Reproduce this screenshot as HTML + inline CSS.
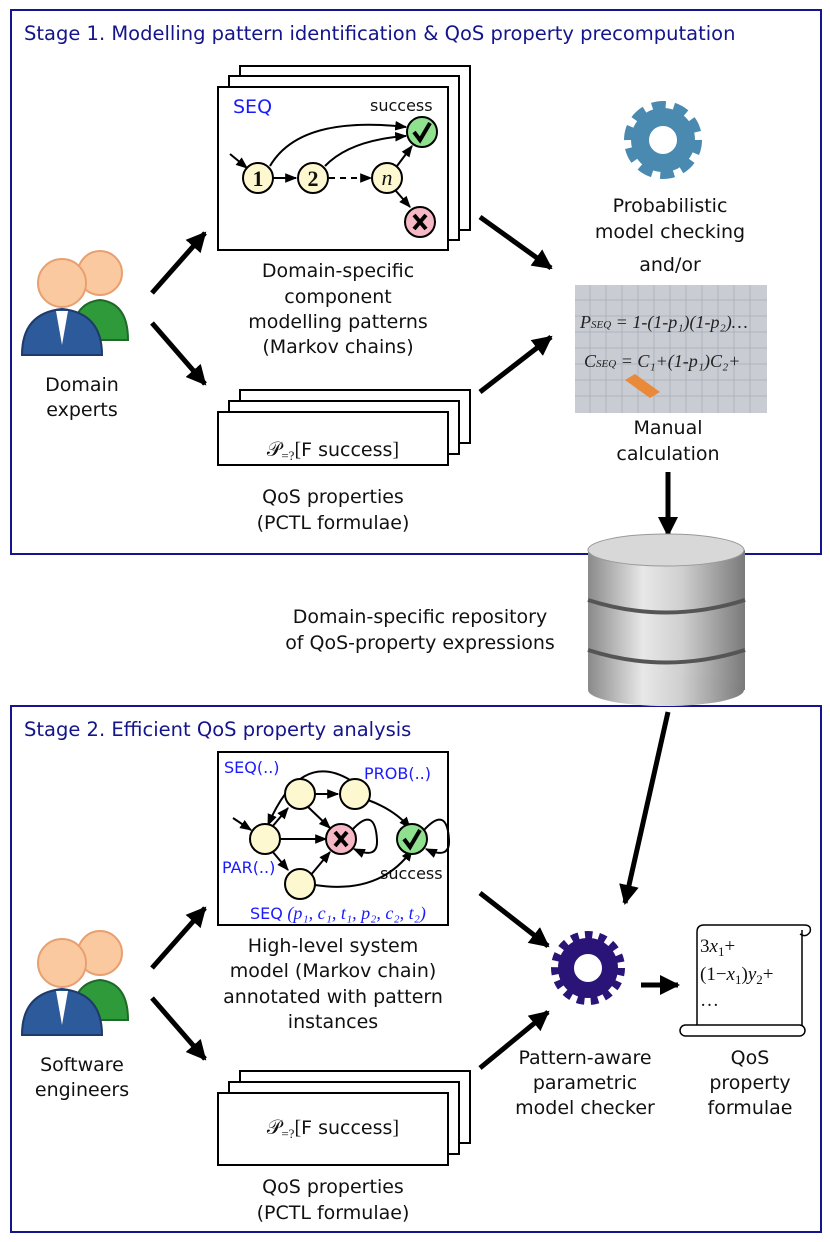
<!DOCTYPE html>
<html><head><meta charset="utf-8"><style>
body{margin:0;background:#fff}
svg{display:block}
text{font-family:"DejaVu Sans","Liberation Sans",sans-serif;font-size:19px;fill:#111}
.c{text-anchor:middle}
.t{fill:#14148c;font-size:19.5px}
.b{fill:#1a1aff}
.m{font-family:"Liberation Serif",serif}
</style></head><body>
<svg width="830" height="1242" viewBox="0 0 830 1242" xmlns="http://www.w3.org/2000/svg">
<defs>
<marker id="a" viewBox="0 0 10 10" refX="9" refY="5" markerWidth="4" markerHeight="4" orient="auto"><path d="M0,0L10,5L0,10z" fill="#000"/></marker>
<marker id="s" viewBox="0 0 10 10" refX="9" refY="5" markerWidth="6" markerHeight="6" orient="auto"><path d="M0,1L10,5L0,9z" fill="#000"/></marker>
<linearGradient id="db" x1="0" x2="1"><stop offset="0" stop-color="#8a8a8a"/><stop offset=".35" stop-color="#e8e8e8"/><stop offset=".6" stop-color="#cfcfcf"/><stop offset="1" stop-color="#7a7a7a"/></linearGradient>
<g id="person">
<circle cx="100" cy="28" r="22" fill="#fbc9a0" stroke="#e8a070" stroke-width="2"/>
<path d="M72,95 Q72,58 100,55 Q128,58 128,95z" fill="#2e9a3a" stroke="#1f6a28" stroke-width="2"/>
<circle cx="62" cy="38" r="24" fill="#fbc9a0" stroke="#e8a070" stroke-width="2"/>
<path d="M22,110 Q22,68 62,64 Q102,68 102,110z" fill="#2d5a9a" stroke="#1d3a6a" stroke-width="2"/>
<path d="M56,66 L62,100 L68,66z" fill="#fff"/>
</g>
</defs>

<rect x="11" y="10" width="810" height="544" fill="none" stroke="#14148c" stroke-width="2"/>
<rect x="11" y="706" width="810" height="526" fill="none" stroke="#14148c" stroke-width="2"/>
<text x="24" y="40" class="t">Stage 1. Modelling pattern identification &amp; QoS property precomputation</text>
<text x="24" y="736" class="t">Stage 2. Efficient QoS property analysis</text>

<!-- SEQ stack -->
<rect x="240" y="66" width="230" height="164" fill="#fff" stroke="#000" stroke-width="2"/>
<rect x="229" y="76" width="230" height="164" fill="#fff" stroke="#000" stroke-width="2"/>
<rect x="218" y="87" width="230" height="163" fill="#fff" stroke="#000" stroke-width="2"/>
<text x="233" y="113" class="b">SEQ</text>
<text x="370" y="111" style="font-size:16px">success</text>
<g stroke="#000" stroke-width="2" fill="none" marker-end="url(#s)">
<line x1="230" y1="154" x2="247" y2="168"/>
<line x1="273" y1="178" x2="296" y2="178"/>
<line x1="329" y1="178" x2="371" y2="178" stroke-dasharray="6,5"/>
<path d="M270,166 Q300,115 406,127"/>
<path d="M325,166 Q350,140 406,136"/>
<line x1="397" y1="166" x2="412" y2="146"/>
<line x1="396" y1="191" x2="410" y2="207"/>
</g>
<g stroke="#000" stroke-width="2">
<circle cx="258" cy="178" r="15" fill="#fdf8d0"/>
<circle cx="313" cy="178" r="15" fill="#fdf8d0"/>
<circle cx="387" cy="178" r="15" fill="#fdf8d0"/>
<circle cx="422" cy="132" r="15" fill="#8fe08f"/>
<circle cx="420" cy="222" r="15" fill="#f5b8c4"/>
</g>
<text x="258" y="186" class="c m" style="font-size:22px;font-weight:bold">1</text>
<text x="313" y="186" class="c m" style="font-size:22px;font-weight:bold">2</text>
<text x="387" y="185" class="c m" style="font-size:22px;font-style:italic">n</text>
<path d="M414,132 L420,140 L430,123" stroke="#000" stroke-width="4" fill="none"/>
<path d="M414,215 L426,229 M426,215 L414,229" stroke="#000" stroke-width="4"/>

<text class="c" x="338" y="277">Domain-specific</text>
<text class="c" x="338" y="303">component</text>
<text class="c" x="338" y="328">modelling patterns</text>
<text class="c" x="338" y="353">(Markov chains)</text>

<rect x="240" y="390" width="230" height="53" fill="#fff" stroke="#000" stroke-width="2"/>
<rect x="229" y="401" width="230" height="53" fill="#fff" stroke="#000" stroke-width="2"/>
<rect x="218" y="412" width="230" height="53" fill="#fff" stroke="#000" stroke-width="2"/>
<text class="c m" x="333" y="456" style="font-size:20px">𝒫<tspan style="font-size:13px" dy="4">=?</tspan><tspan dy="-4">[</tspan><tspan style="font-family:'DejaVu Sans',sans-serif;font-size:19px">F success</tspan>]</text>
<text class="c" x="333" y="503">QoS properties</text>
<text class="c" x="333" y="529">(PCTL formulae)</text>

<use href="#person" x="0" y="245"/>
<text class="c" x="82" y="391">Domain</text>
<text class="c" x="82" y="416">experts</text>

<g stroke="#000" stroke-width="5" marker-end="url(#a)">
<line x1="152" y1="293" x2="205" y2="233"/>
<line x1="152" y1="323" x2="205" y2="384"/>
<line x1="480" y1="217" x2="551" y2="268"/>
<line x1="480" y1="392" x2="551" y2="337"/>
<line x1="668" y1="472" x2="668" y2="535"/>
<line x1="152" y1="968" x2="205" y2="908"/>
<line x1="152" y1="998" x2="205" y2="1059"/>
<line x1="480" y1="893" x2="548" y2="946"/>
<line x1="480" y1="1068" x2="548" y2="1012"/>
<line x1="668" y1="712" x2="625" y2="903"/>
<line x1="641" y1="985" x2="678" y2="985"/>
</g>

<!-- blue gear -->
<circle cx="663" cy="140" r="33" fill="none" stroke="#4a8ab0" stroke-width="12" stroke-dasharray="13,7.7"/>
<circle cx="663" cy="140" r="23" fill="none" stroke="#4a8ab0" stroke-width="18"/>
<text class="c" x="670" y="212">Probabilistic</text>
<text class="c" x="670" y="238">model checking</text>
<text class="c" x="670" y="271">and/or</text>
<!-- photo -->
<rect x="575" y="285" width="192" height="128" fill="#c9ccd3"/>
<g stroke="#aeb3bd" stroke-width="1">
<path d="M575,300H767M575,316H767M575,332H767M575,348H767M575,364H767M575,380H767M575,396H767M590,285V413M606,285V413M622,285V413M638,285V413M654,285V413M670,285V413M686,285V413M702,285V413M718,285V413M734,285V413M750,285V413"/>
</g>
<text x="580" y="328" style="font-size:18px;fill:#222;font-family:'Liberation Serif',serif;font-style:italic">P<tspan font-size="11">SEQ</tspan> = 1-(1-p₁)(1-p₂)…</text>
<text x="584" y="367" style="font-size:18px;fill:#222;font-family:'Liberation Serif',serif;font-style:italic">C<tspan font-size="11">SEQ</tspan> = C₁+(1-p₁)C₂+</text>
<path d="M625,380 L650,398 L660,392 L635,374z" fill="#e88a3a"/>
<text class="c" x="668" y="434">Manual</text>
<text class="c" x="668" y="460">calculation</text>

<!-- database -->
<rect x="588" y="550" width="157" height="140" fill="url(#db)"/>
<ellipse cx="666" cy="690" rx="78" ry="16" fill="url(#db)"/>
<ellipse cx="666" cy="550" rx="78" ry="16" fill="#d8d8d8" stroke="#999"/>
<path d="M588,600 Q666,625 745,600" stroke="#555" stroke-width="4" fill="none"/>
<path d="M588,650 Q666,675 745,650" stroke="#555" stroke-width="4" fill="none"/>

<text class="c" x="420" y="623">Domain-specific repository</text>
<text class="c" x="420" y="649">of QoS-property expressions</text>

<!-- stage 2 diagram -->
<rect x="218" y="752" width="230" height="173" fill="#fff" stroke="#000" stroke-width="2"/>
<text x="224" y="773" class="b" style="font-size:16px">SEQ(..)</text>
<text x="364" y="779" class="b" style="font-size:16px">PROB(..)</text>
<text x="222" y="873" class="b" style="font-size:16px">PAR(..)</text>
<text x="380" y="879" style="font-size:16px">success</text>
<text x="250" y="919" class="b" style="font-size:16px">SEQ<tspan class="m" font-style="italic" font-size="18"> (p₁, c₁, t₁, p₂, c₂, t₂)</tspan></text>
<g stroke="#000" stroke-width="2" fill="none" marker-end="url(#s)">
<line x1="233" y1="818" x2="251" y2="830"/>
<line x1="272" y1="827" x2="288" y2="808"/>
<line x1="272" y1="851" x2="288" y2="870"/>
<line x1="280" y1="839" x2="326" y2="839"/>
<line x1="314" y1="794" x2="338" y2="794"/>
<line x1="307" y1="806" x2="330" y2="828"/>
<line x1="310" y1="876" x2="330" y2="852"/>
<path d="M368,800 Q395,810 410,828"/>
<path d="M315,885 Q380,895 412,850"/>
<path d="M350,780 Q300,750 268,825"/>
<path d="M352,830 Q375,805 377,840 Q378,860 354,849"/>
<path d="M424,830 Q447,805 449,840 Q450,860 426,849"/>
</g>
<g stroke="#000" stroke-width="2">
<circle cx="300" cy="794" r="15" fill="#fdf8d0"/>
<circle cx="355" cy="794" r="15" fill="#fdf8d0"/>
<circle cx="265" cy="839" r="15" fill="#fdf8d0"/>
<circle cx="300" cy="884" r="15" fill="#fdf8d0"/>
<circle cx="341" cy="839" r="15" fill="#f5b8c4"/>
<circle cx="412" cy="839" r="15" fill="#8fe08f"/>
</g>
<path d="M335,832 L347,846 M347,832 L335,846" stroke="#000" stroke-width="4"/>
<path d="M404,839 L410,847 L420,830" stroke="#000" stroke-width="4" fill="none"/>

<text class="c" x="333" y="952">High-level system</text>
<text class="c" x="333" y="977">model (Markov chain)</text>
<text class="c" x="333" y="1003">annotated with pattern</text>
<text class="c" x="333" y="1028">instances</text>

<use href="#person" x="0" y="925"/>
<text class="c" x="82" y="1071">Software</text>
<text class="c" x="82" y="1096">engineers</text>

<rect x="240" y="1071" width="230" height="72" fill="#fff" stroke="#000" stroke-width="2"/>
<rect x="229" y="1082" width="230" height="72" fill="#fff" stroke="#000" stroke-width="2"/>
<rect x="218" y="1093" width="230" height="72" fill="#fff" stroke="#000" stroke-width="2"/>
<text class="c m" x="333" y="1134" style="font-size:20px">𝒫<tspan style="font-size:13px" dy="4">=?</tspan><tspan dy="-4">[</tspan><tspan style="font-family:'DejaVu Sans',sans-serif;font-size:19px">F success</tspan>]</text>
<text class="c" x="333" y="1193">QoS properties</text>
<text class="c" x="333" y="1219">(PCTL formulae)</text>

<!-- purple gear -->
<circle cx="588" cy="968" r="31" fill="none" stroke="#2a1478" stroke-width="12" stroke-dasharray="7,6"/>
<circle cx="588" cy="968" r="22" fill="none" stroke="#2a1478" stroke-width="16"/>
<text class="c" x="585" y="1064">Pattern-aware</text>
<text class="c" x="585" y="1089">parametric</text>
<text class="c" x="585" y="1114">model checker</text>

<!-- scroll -->
<path d="M697,1026 V932 Q697,925 704,925 H804 Q812,925 810,932 Q806,938 800,934 M802,930 V1030" stroke="#000" stroke-width="1.5" fill="#fff"/>
<rect x="680" y="1025" width="125" height="11" rx="5.5" fill="#fff" stroke="#000" stroke-width="1.5"/>
<text x="700" y="952" class="m" style="font-size:19px">3<tspan font-style="italic">x</tspan><tspan font-size="13" dy="4">1</tspan><tspan dy="-4">+</tspan></text>
<text x="700" y="980" class="m" style="font-size:19px">(1−<tspan font-style="italic">x</tspan><tspan font-size="13" dy="4">1</tspan><tspan dy="-4">)</tspan><tspan font-style="italic">y</tspan><tspan font-size="13" dy="4">2</tspan><tspan dy="-4">+</tspan></text>
<text x="700" y="1006" class="m" style="font-size:19px">…</text>
<text class="c" x="750" y="1064">QoS</text>
<text class="c" x="750" y="1089">property</text>
<text class="c" x="750" y="1114">formulae</text>
</svg>
</body></html>
